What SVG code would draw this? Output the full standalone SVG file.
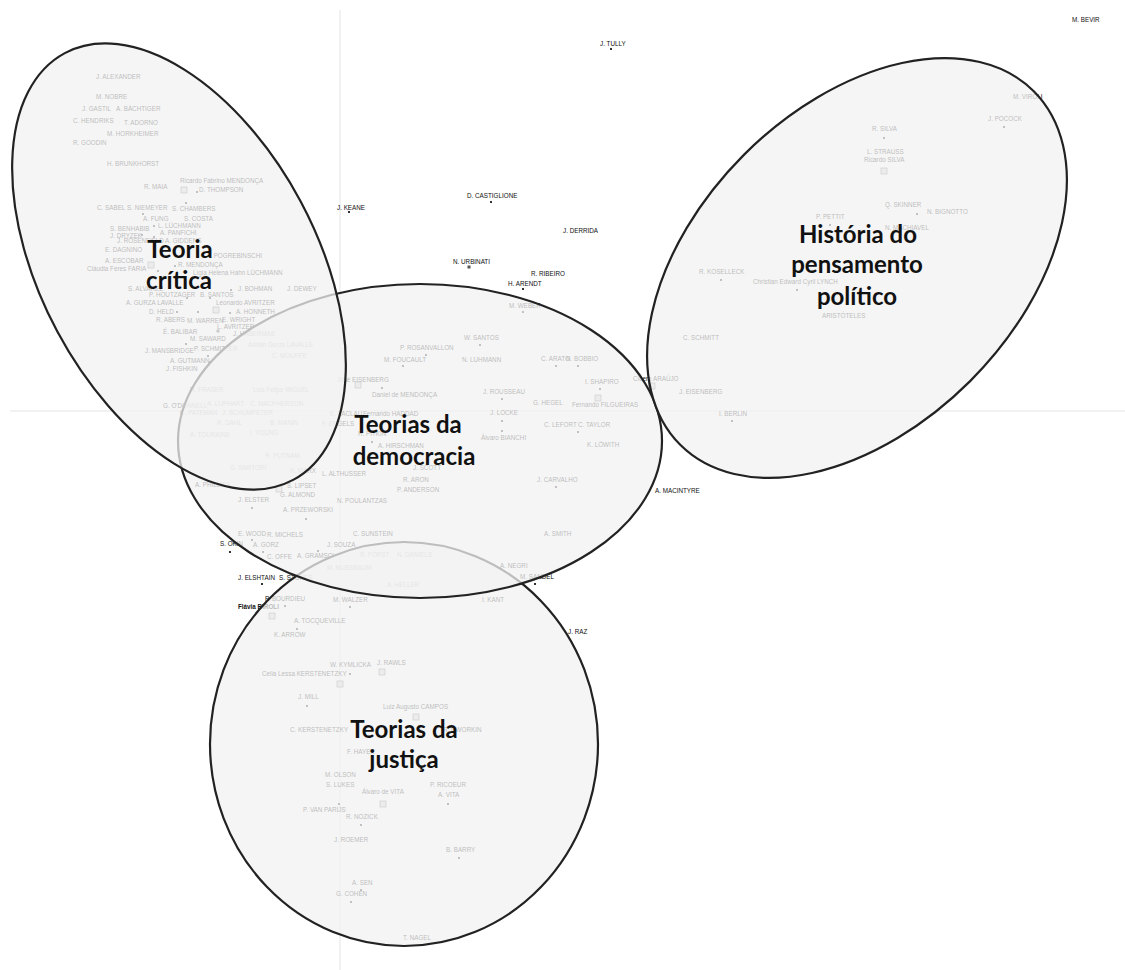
<svg xmlns="http://www.w3.org/2000/svg" xmlns:xlink="http://www.w3.org/1999/xlink" width="1125" height="970" viewBox="0 0 1125 970">
<defs>
<style>
.l{font-family:"Liberation Sans",Arial,sans-serif;font-size:6.3px;fill:#111}
.b{font-weight:bold}
.t{font-family:Lato,"Open Sans",sans-serif;font-weight:700;font-size:24px;fill:#111;text-anchor:middle}
.e{fill:#f2f2f2;fill-opacity:0.75;stroke:#222;stroke-width:2.2}
.ax{stroke:#e4e4e4;stroke-width:1}
</style>
<rect id="d" x="-1" y="-1" width="2" height="2" fill="#333"/>
<rect id="s" x="-3" y="-3" width="6" height="6" fill="#dcdcdc" stroke="#666" stroke-width="0.7"/>
<rect id="m" x="-1.5" y="-1.5" width="3" height="3" fill="#555"/>
</defs>
<rect width="1125" height="970" fill="#fff"/>
<g id="axes">
<line class="ax" x1="340" y1="10" x2="340" y2="970"/>
<line class="ax" x1="10" y1="411" x2="1125" y2="411"/>
</g>
<g id="points">
<use href="#d" x="611" y="49"/><use href="#d" x="349" y="212"/><use href="#d" x="491" y="202"/>
<use href="#m" x="469" y="267"/><use href="#d" x="523" y="289"/><use href="#d" x="230" y="552"/>
<use href="#d" x="262" y="584"/><use href="#d" x="285" y="606"/><use href="#s" x="272" y="616"/>
<use href="#d" x="535" y="584"/><use href="#d" x="523" y="312"/>
<use href="#s" x="184" y="190"/><use href="#d" x="197" y="192"/><use href="#d" x="186" y="203"/>
<use href="#d" x="143" y="214"/><use href="#d" x="154" y="226"/><use href="#d" x="142" y="235"/>
<use href="#d" x="154" y="237"/><use href="#d" x="175" y="266"/><use href="#s" x="151" y="265"/>
<use href="#d" x="158" y="271"/><use href="#d" x="162" y="288"/><use href="#d" x="231" y="290"/>
<use href="#d" x="187" y="298"/><use href="#d" x="210" y="298"/><use href="#d" x="177" y="312"/>
<use href="#d" x="198" y="312"/><use href="#s" x="216" y="310"/><use href="#d" x="230" y="313"/>
<use href="#m" x="218" y="331"/><use href="#d" x="186" y="344"/><use href="#d" x="208" y="356"/>
<use href="#d" x="210" y="362"/><use href="#d" x="372" y="442"/>
<use href="#d" x="426" y="355"/><use href="#d" x="480" y="345"/><use href="#d" x="403" y="366"/>
<use href="#d" x="556" y="366"/><use href="#d" x="578" y="366"/><use href="#s" x="358" y="385"/>
<use href="#d" x="382" y="388"/><use href="#d" x="502" y="399"/><use href="#d" x="600" y="389"/>
<use href="#s" x="598" y="398"/><use href="#d" x="502" y="421"/><use href="#d" x="578" y="432"/>
<use href="#d" x="502" y="431"/><use href="#d" x="556" y="487"/><use href="#s" x="279" y="489"/>
<use href="#d" x="252" y="508"/><use href="#d" x="306" y="519"/><use href="#d" x="252" y="540"/>
<use href="#d" x="263" y="552"/><use href="#d" x="318" y="551"/><use href="#d" x="350" y="607"/>
<use href="#s" x="652" y="386"/>
<use href="#d" x="297" y="629"/><use href="#d" x="350" y="674"/><use href="#s" x="382" y="672"/>
<use href="#s" x="340" y="684"/><use href="#d" x="307" y="706"/><use href="#s" x="416" y="717"/>
<use href="#d" x="339" y="804"/><use href="#s" x="383" y="804"/><use href="#d" x="448" y="804"/>
<use href="#d" x="361" y="825"/><use href="#d" x="459" y="858"/><use href="#d" x="361" y="890"/>
<use href="#d" x="351" y="902"/>
<use href="#d" x="1004" y="127"/><use href="#d" x="884" y="138"/><use href="#s" x="884" y="171"/>
<use href="#d" x="917" y="214"/><use href="#d" x="830" y="225"/><use href="#d" x="721" y="280"/>
<use href="#d" x="797" y="290"/><use href="#d" x="732" y="421"/>
</g>
<g id="labels" class="l">
<text x="1072" y="22">M. BEVIR</text>
<text x="600" y="46">J. TULLY</text>
<text x="337" y="210">J. KEANE</text>
<text x="467" y="198">D. CASTIGLIONE</text>
<text x="563" y="233">J. DERRIDA</text>
<text x="453" y="264">N. URBINATI</text>
<text x="531" y="276">R. RIBEIRO</text>
<text x="508" y="286">H. ARENDT</text>
<text x="655" y="493">A. MACINTYRE</text>
<text x="568" y="634">J. RAZ</text>
<text x="220" y="546">S. OKIN</text>
<text x="238" y="580">J. ELSHTAIN</text>
<text x="279" y="580">S. STOKES</text>
<text x="265" y="601">P. BOURDIEU</text>
<text x="238" y="609" class="b">Flávia BIROLI</text>
<text x="520" y="579">M. SANDEL</text>
<text x="509" y="308">M. WEBER</text>
<text x="96" y="79">J. ALEXANDER</text>
<text x="96" y="99">M. NOBRE</text>
<text x="82" y="111">J. GASTIL</text>
<text x="116" y="111">A. BÄCHTIGER</text>
<text x="73" y="123">C. HENDRIKS</text>
<text x="124" y="125">T. ADORNO</text>
<text x="107" y="136">M. HORKHEIMER</text>
<text x="73" y="145">R. GOODIN</text>
<text x="107" y="166">H. BRUNKHORST</text>
<text x="180" y="183">Ricardo Fabrino MENDONÇA</text>
<text x="144" y="189">R. MAIA</text>
<text x="199" y="192">D. THOMPSON</text>
<text x="97" y="210">C. SABEL</text>
<text x="127" y="210">S. NIEMEYER</text>
<text x="172" y="211">S. CHAMBERS</text>
<text x="143" y="221">A. FUNG</text>
<text x="184" y="221">S. COSTA</text>
<text x="110" y="231">S. BENHABIB</text>
<text x="158" y="228">L. LÜCHMANN</text>
<text x="110" y="238">J. DRYZEK</text>
<text x="160" y="235">A. PANFICHI</text>
<text x="117" y="243">J. ROSENFIELD</text>
<text x="165" y="243">A. GIDDENS</text>
<text x="105" y="252">E. DAGNINO</text>
<text x="207" y="258">T. POGREBINSCHI</text>
<text x="105" y="263">A. ESCOBAR</text>
<text x="178" y="267">R. MENDONÇA</text>
<text x="87" y="271">Cláudia Feres FARIA</text>
<text x="193" y="275">Lígia Helena Hahn LÜCHMANN</text>
<text x="128" y="291">S. ALVAREZ</text>
<text x="238" y="291">J. BOHMAN</text>
<text x="287" y="291">J. DEWEY</text>
<text x="149" y="297">P. HOUTZAGER</text>
<text x="200" y="297">B. SANTOS</text>
<text x="126" y="305">A. GURZA LAVALLE</text>
<text x="216" y="305">Leonardo AVRITZER</text>
<text x="149" y="314">D. HELD</text>
<text x="236" y="314">A. HONNETH</text>
<text x="156" y="322">R. ABERS</text>
<text x="187" y="323">M. WARREN</text>
<text x="222" y="322">E. WRIGHT</text>
<text x="217" y="329">L. AVRITZER</text>
<text x="163" y="334">É. BALIBAR</text>
<text x="233" y="336">J. HABERMAS</text>
<text x="190" y="341">M. SAWARD</text>
<text x="145" y="353">J. MANSBRIDGE</text>
<text x="194" y="351">P. SCHMITTER</text>
<text x="170" y="363">A. GUTMANN</text>
<text x="166" y="371">J. FISHKIN</text>
<text x="248" y="347">Adrián Gurza LAVALLE</text>
<text x="272" y="358">C. MOUFFE</text>
<text x="190" y="392">N. FRASER</text>
<text x="253" y="392">Luis Felipe MIGUEL</text>
<text x="163" y="408">G. O'DONNELL</text>
<text x="207" y="406">A. LIJPHART</text>
<text x="250" y="406">C. MACPHERSON</text>
<text x="180" y="415">C. PATEMAN</text>
<text x="222" y="415">J. SCHUMPETER</text>
<text x="217" y="425">R. DAHL</text>
<text x="270" y="425">B. MANIN</text>
<text x="190" y="437">A. TOURAINE</text>
<text x="250" y="435">I. YOUNG</text>
<text x="265" y="458">R. PUTNAM</text>
<text x="230" y="470">G. SARTORI</text>
<text x="290" y="473">K. MARX</text>
<text x="195" y="487">A. PHILLIPS</text>
<text x="330" y="416">E. LACLAU</text>
<text x="322" y="426">F. ENGELS</text>
<text x="358" y="436">H. PITKIN</text>
<text x="400" y="350">P. ROSANVALLON</text>
<text x="464" y="340">W. SANTOS</text>
<text x="384" y="362">M. FOUCAULT</text>
<text x="462" y="362">N. LUHMANN</text>
<text x="541" y="361">C. ARATO</text>
<text x="566" y="361">N. BOBBIO</text>
<text x="337" y="382">José EISENBERG</text>
<text x="372" y="397">Daniel de MENDONÇA</text>
<text x="483" y="394">J. ROUSSEAU</text>
<text x="585" y="384">I. SHAPIRO</text>
<text x="572" y="407">Fernando FILGUEIRAS</text>
<text x="533" y="405">G. HEGEL</text>
<text x="363" y="416">Fernando HADDAD</text>
<text x="490" y="415">J. LOCKE</text>
<text x="544" y="427">C. LEFORT</text>
<text x="578" y="427">C. TAYLOR</text>
<text x="481" y="440">Álvaro BIANCHI</text>
<text x="587" y="447">K. LÖWITH</text>
<text x="378" y="448">A. HIRSCHMAN</text>
<text x="413" y="470">J. SCOTT</text>
<text x="403" y="482">R. ARON</text>
<text x="397" y="492">P. ANDERSON</text>
<text x="537" y="482">J. CARVALHO</text>
<text x="322" y="476">L. ALTHUSSER</text>
<text x="287" y="488">S. LIPSET</text>
<text x="280" y="497">G. ALMOND</text>
<text x="238" y="502">J. ELSTER</text>
<text x="337" y="503">N. POULANTZAS</text>
<text x="283" y="512">A. PRZEWORSKI</text>
<text x="238" y="536">E. WOOD</text>
<text x="267" y="537">R. MICHELS</text>
<text x="353" y="536">C. SUNSTEIN</text>
<text x="253" y="547">A. GORZ</text>
<text x="327" y="547">J. SOUZA</text>
<text x="267" y="559">C. OFFE</text>
<text x="297" y="558">A. GRAMSCI</text>
<text x="544" y="536">A. SMITH</text>
<text x="500" y="568">A. NEGRI</text>
<text x="360" y="557">R. FORST</text>
<text x="397" y="557">N. DANIELS</text>
<text x="327" y="570">M. NUSSBAUM</text>
<text x="387" y="587">A. HELLER</text>
<text x="482" y="602">I. KANT</text>
<text x="333" y="602">M. WALZER</text>
<text x="633" y="381">Cícero ARAÚJO</text>
<text x="294" y="623">A. TOCQUEVILLE</text>
<text x="274" y="637">K. ARROW</text>
<text x="330" y="667">W. KYMLICKA</text>
<text x="377" y="665">J. RAWLS</text>
<text x="262" y="676">Celia Lessa KERSTENETZKY</text>
<text x="298" y="699">J. MILL</text>
<text x="383" y="709">Luiz Augusto CAMPOS</text>
<text x="290" y="732">C. KERSTENETZKY</text>
<text x="443" y="732">R. DWORKIN</text>
<text x="347" y="754">F. HAYEK</text>
<text x="325" y="777">M. OLSON</text>
<text x="326" y="787">S. LUKES</text>
<text x="362" y="794">Álvaro de VITA</text>
<text x="430" y="787">P. RICOEUR</text>
<text x="438" y="797">A. VITA</text>
<text x="303" y="812">P. VAN PARIJS</text>
<text x="346" y="819">R. NOZICK</text>
<text x="334" y="842">J. ROEMER</text>
<text x="446" y="852">B. BARRY</text>
<text x="352" y="885">A. SEN</text>
<text x="336" y="896">G. COHEN</text>
<text x="403" y="940">T. NAGEL</text>
<text x="1013" y="99">M. VIROLI</text>
<text x="988" y="121">J. POCOCK</text>
<text x="872" y="131">R. SILVA</text>
<text x="867" y="154">L. STRAUSS</text>
<text x="864" y="162">Ricardo SILVA</text>
<text x="885" y="207">Q. SKINNER</text>
<text x="927" y="214">N. BIGNOTTO</text>
<text x="816" y="219">P. PETTIT</text>
<text x="885" y="230">N. MACHIAVEL</text>
<text x="699" y="274">R. KOSELLECK</text>
<text x="753" y="284">Christian Edward Cyril LYNCH</text>
<text x="822" y="318">ARISTÓTELES</text>
<text x="683" y="340">C. SCHMITT</text>
<text x="679" y="394">J. EISENBERG</text>
<text x="719" y="416">I. BERLIN</text>
</g>
<g id="clusters">
<ellipse id="c-justica" class="e" cx="404" cy="744" rx="194" ry="202"/>
<ellipse id="c-democracia" class="e" cx="420" cy="441" rx="242" ry="157"/>
<ellipse id="c-historia" class="e" cx="857" cy="268" rx="250" ry="160" transform="rotate(-45 857 268)"/>
<ellipse id="c-critica" class="e" cx="179" cy="266.5" rx="242" ry="138" transform="rotate(61.85 179 266.5)"/>
</g>
<g id="titles" class="t">
<text x="180" y="258">Teoria</text>
<text x="179" y="289">crítica</text>
<text x="408" y="433">Teorias da</text>
<text x="414" y="465">democracia</text>
<text x="404" y="738">Teorias da</text>
<text x="404" y="768">justiça</text>
<text x="858" y="243">História do</text>
<text x="857" y="273">pensamento</text>
<text x="857" y="305">político</text>
</g>
</svg>
